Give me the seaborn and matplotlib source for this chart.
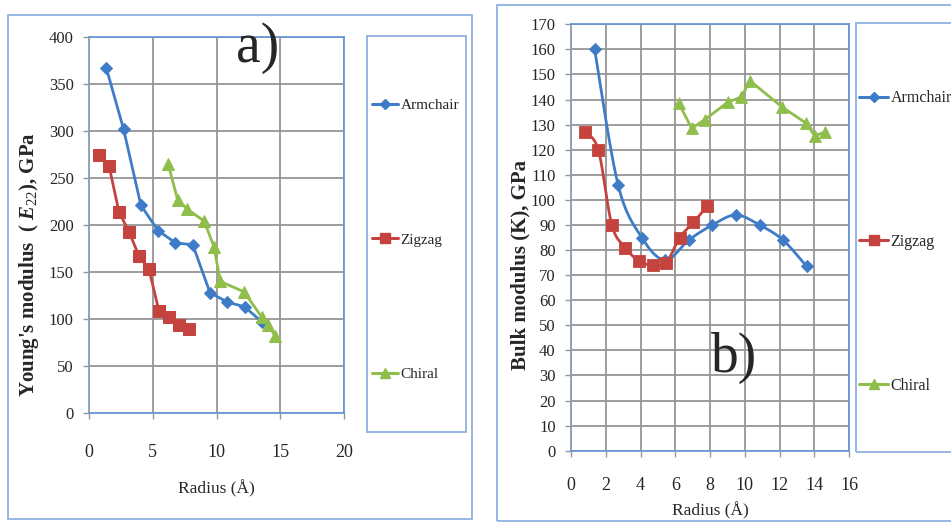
import numpy as np
import pandas as pd
import matplotlib
matplotlib.use("Agg")
import matplotlib.pyplot as plt
from matplotlib.lines import Line2D
from matplotlib.patches import Rectangle
import seaborn as sns

# ---- data -------------------------------------------------------------
series_names = ["Armchair", "Zigzag", "Chiral"]

armchair_radius = [1.36, 2.71, 4.07, 5.42, 6.78, 8.14, 9.49, 10.85, 12.20, 13.56]
zigzag_radius = [0.78, 1.57, 2.35, 3.13, 3.92, 4.70, 5.48, 6.26, 7.05, 7.83]
chiral_radius = [6.20, 6.95, 7.70, 9.04, 9.80, 10.30, 12.15, 13.55, 14.02, 14.60]

young_armchair = [367, 302, 221, 194, 181, 179, 128, 118, 113, 97]
young_zigzag = [275, 263, 214, 193, 167, 153, 109, 102, 94, 89]
young_chiral = [265, 227, 217, 204, 177, 140, 129, 102, 94, 82]

bulk_armchair = [160, 106, 85, 76, 84, 90, 94, 90, 84, 73.5]
bulk_zigzag = [127, 120, 90, 81, 75.5, 74, 75, 85, 91, 97.5]
bulk_chiral = [138.5, 128.5, 132, 139, 141, 147.5, 137, 130.5, 125.5, 127]

young_xticks = [0, 5, 10, 15, 20]
young_yticks = list(range(0, 401, 50))
bulk_xticks = list(range(0, 17, 2))
bulk_yticks = list(range(0, 171, 10))

# ---- style --------------------------------------------------------------
sns.set_theme(style="white")
plt.rcParams["font.family"] = ["Liberation Serif", "DejaVu Serif"]
plt.rcParams["mathtext.fontset"] = "custom"
plt.rcParams["mathtext.it"] = "Liberation Serif:italic:bold"
plt.rcParams["mathtext.rm"] = "Liberation Serif"
plt.rcParams["mathtext.bf"] = "Liberation Serif:bold"

colors = {"Armchair": "#3F7CC8", "Zigzag": "#C4433F", "Chiral": "#8FBE4A"}
markers = {"Armchair": "D", "Zigzag": "s", "Chiral": "^"}
msizes = {"Armchair": 6.2, "Zigzag": 8, "Chiral": 8.5}
frame_blue = "#8DB1E0"
spine_blue = "#6A98D6"
grid_gray = "#959595"

W, H = 951, 523
fig = plt.figure(figsize=(W / 100, H / 100), dpi=100)


def fx(px):
    return px / W


def fy(py):
    return 1 - py / H


def smooth(x, y, n=24):
    """Bezier smoothing through the data points (spreadsheet style)."""
    pts = np.column_stack([x, y]).astype(float)
    P = np.vstack([pts[0], pts, pts[-1]])
    out = []
    t = np.linspace(0, 1, n, endpoint=False)[:, None]
    for i in range(1, len(P) - 2):
        p0, p1, p2, p3 = P[i - 1], P[i], P[i + 1], P[i + 2]
        c1 = p1 + (p2 - p0) / 6
        c2 = p2 - (p3 - p1) / 6
        out.append((1 - t) ** 3 * p1 + 3 * (1 - t) ** 2 * t * c1
                   + 3 * (1 - t) * t ** 2 * c2 + t ** 3 * p2)
    out.append(pts[-1:])
    return np.vstack(out)


# outer frames and legend boxes
for (x0, y0, x1, y1) in [(8, 15, 472, 519), (497, 5, 960, 521),
                         (367, 36, 466, 432), (856, 23, 960, 452)]:
    fig.patches.append(Rectangle((fx(x0), fy(y1)), fx(x1) - fx(x0), fy(y0) - fy(y1),
                                 transform=fig.transFigure, fill=False,
                                 edgecolor=frame_blue, linewidth=1.3, zorder=0))


def style_axes(ax, xticks, yticks, xpad, ypad):
    ax.set_xticks(xticks)
    ax.set_yticks(yticks)
    ax.set_xlim(xticks[0], xticks[-1])
    ax.set_ylim(yticks[0], yticks[-1])
    ax.grid(True, color=grid_gray, linewidth=1.3)
    ax.set_axisbelow(True)
    for s in ax.spines.values():
        s.set_visible(True)
        s.set_color(spine_blue)
        s.set_linewidth(1.3)
    ax.spines["left"].set_color("#8C9FB8")
    ax.tick_params(axis="both", which="both", direction="out", length=4,
                   width=1, color=grid_gray, left=True, bottom=True)
    ax.tick_params(axis="x", labelsize=13, pad=xpad)
    ax.tick_params(axis="y", labelsize=12, pad=ypad)
    ax.set_xlabel("")
    ax.set_ylabel("")


# ---- panel a: Young's modulus ---------------------------------------------
ax1 = fig.add_axes([fx(89), fy(413), fx(344) - fx(89), fy(37) - fy(413)])
df_a = pd.concat([
    pd.DataFrame({"r": armchair_radius, "v": young_armchair, "type": "Armchair"}),
    pd.DataFrame({"r": zigzag_radius, "v": young_zigzag, "type": "Zigzag"}),
    pd.DataFrame({"r": chiral_radius, "v": young_chiral, "type": "Chiral"}),
])
for name in series_names:
    sub = df_a[df_a["type"] == name]
    sns.lineplot(data=sub, x="r", y="v", ax=ax1, color=colors[name],
                 marker=markers[name], markersize=msizes[name],
                 markeredgecolor=colors[name], linewidth=2.0, sort=False,
                 legend=False)
style_axes(ax1, young_xticks, young_yticks, xpad=18, ypad=7)
fig.text(fx(29), fy(265), "Young's modulus  ( $E_{22}$), GPa", rotation=90,
         ha="center", va="center", fontsize=15, fontweight="bold")
fig.text(fx(216), fy(489), "Radius (Å)", ha="center", va="center", fontsize=12.5)
fig.text(fx(258), fy(48), "a)", ha="center", va="center", fontsize=40)

# ---- panel b: Bulk modulus ------------------------------------------------
ax2 = fig.add_axes([fx(571), fy(450.7), fx(849) - fx(571), fy(24.3) - fy(450.7)])
bulk = {"Armchair": (armchair_radius, bulk_armchair),
        "Zigzag": (zigzag_radius, bulk_zigzag),
        "Chiral": (chiral_radius, bulk_chiral)}
for name in series_names:
    xr, yv = bulk[name]
    if name == "Chiral":
        curve = np.column_stack([xr, yv])
    else:
        curve = smooth(xr, yv)
    sns.lineplot(x=curve[:, 0], y=curve[:, 1], ax=ax2, color=colors[name],
                 linewidth=2.0, sort=False, legend=False)
    sns.scatterplot(x=xr, y=yv, ax=ax2, color=colors[name], marker=markers[name],
                    s=msizes[name] ** 2, edgecolor=colors[name], linewidth=0.6,
                    legend=False, zorder=3)
style_axes(ax2, bulk_xticks, bulk_yticks, xpad=15, ypad=7)
fig.text(fx(520), fy(265), "Bulk modulus (K), GPa", rotation=90,
         ha="center", va="center", fontsize=15, fontweight="bold")
fig.text(fx(710), fy(511), "Radius (Å)", ha="center", va="center", fontsize=12.5)
fig.text(fx(734), fy(358), "b)", ha="center", va="center", fontsize=40)

# ---- legends -------------------------------------------------------------
handles = [Line2D([0], [0], color=colors[n], marker=markers[n],
                  markersize=msizes[n] * 0.9, markeredgecolor=colors[n],
                  linewidth=2.2) for n in series_names]
fig.legend(handles, series_names, loc="center left",
           bbox_to_anchor=(fx(366), fy(240)), frameon=False, fontsize=11,
           labelspacing=7.9, handlelength=1.7, handletextpad=0.15,
           borderaxespad=0)
fig.legend(handles, series_names, loc="center left",
           bbox_to_anchor=(fx(853), fy(242)), frameon=False, fontsize=11.5,
           labelspacing=8.0, handlelength=1.8, handletextpad=0.15,
           borderaxespad=0)

fig.savefig("out.png", dpi=100, facecolor="white")
